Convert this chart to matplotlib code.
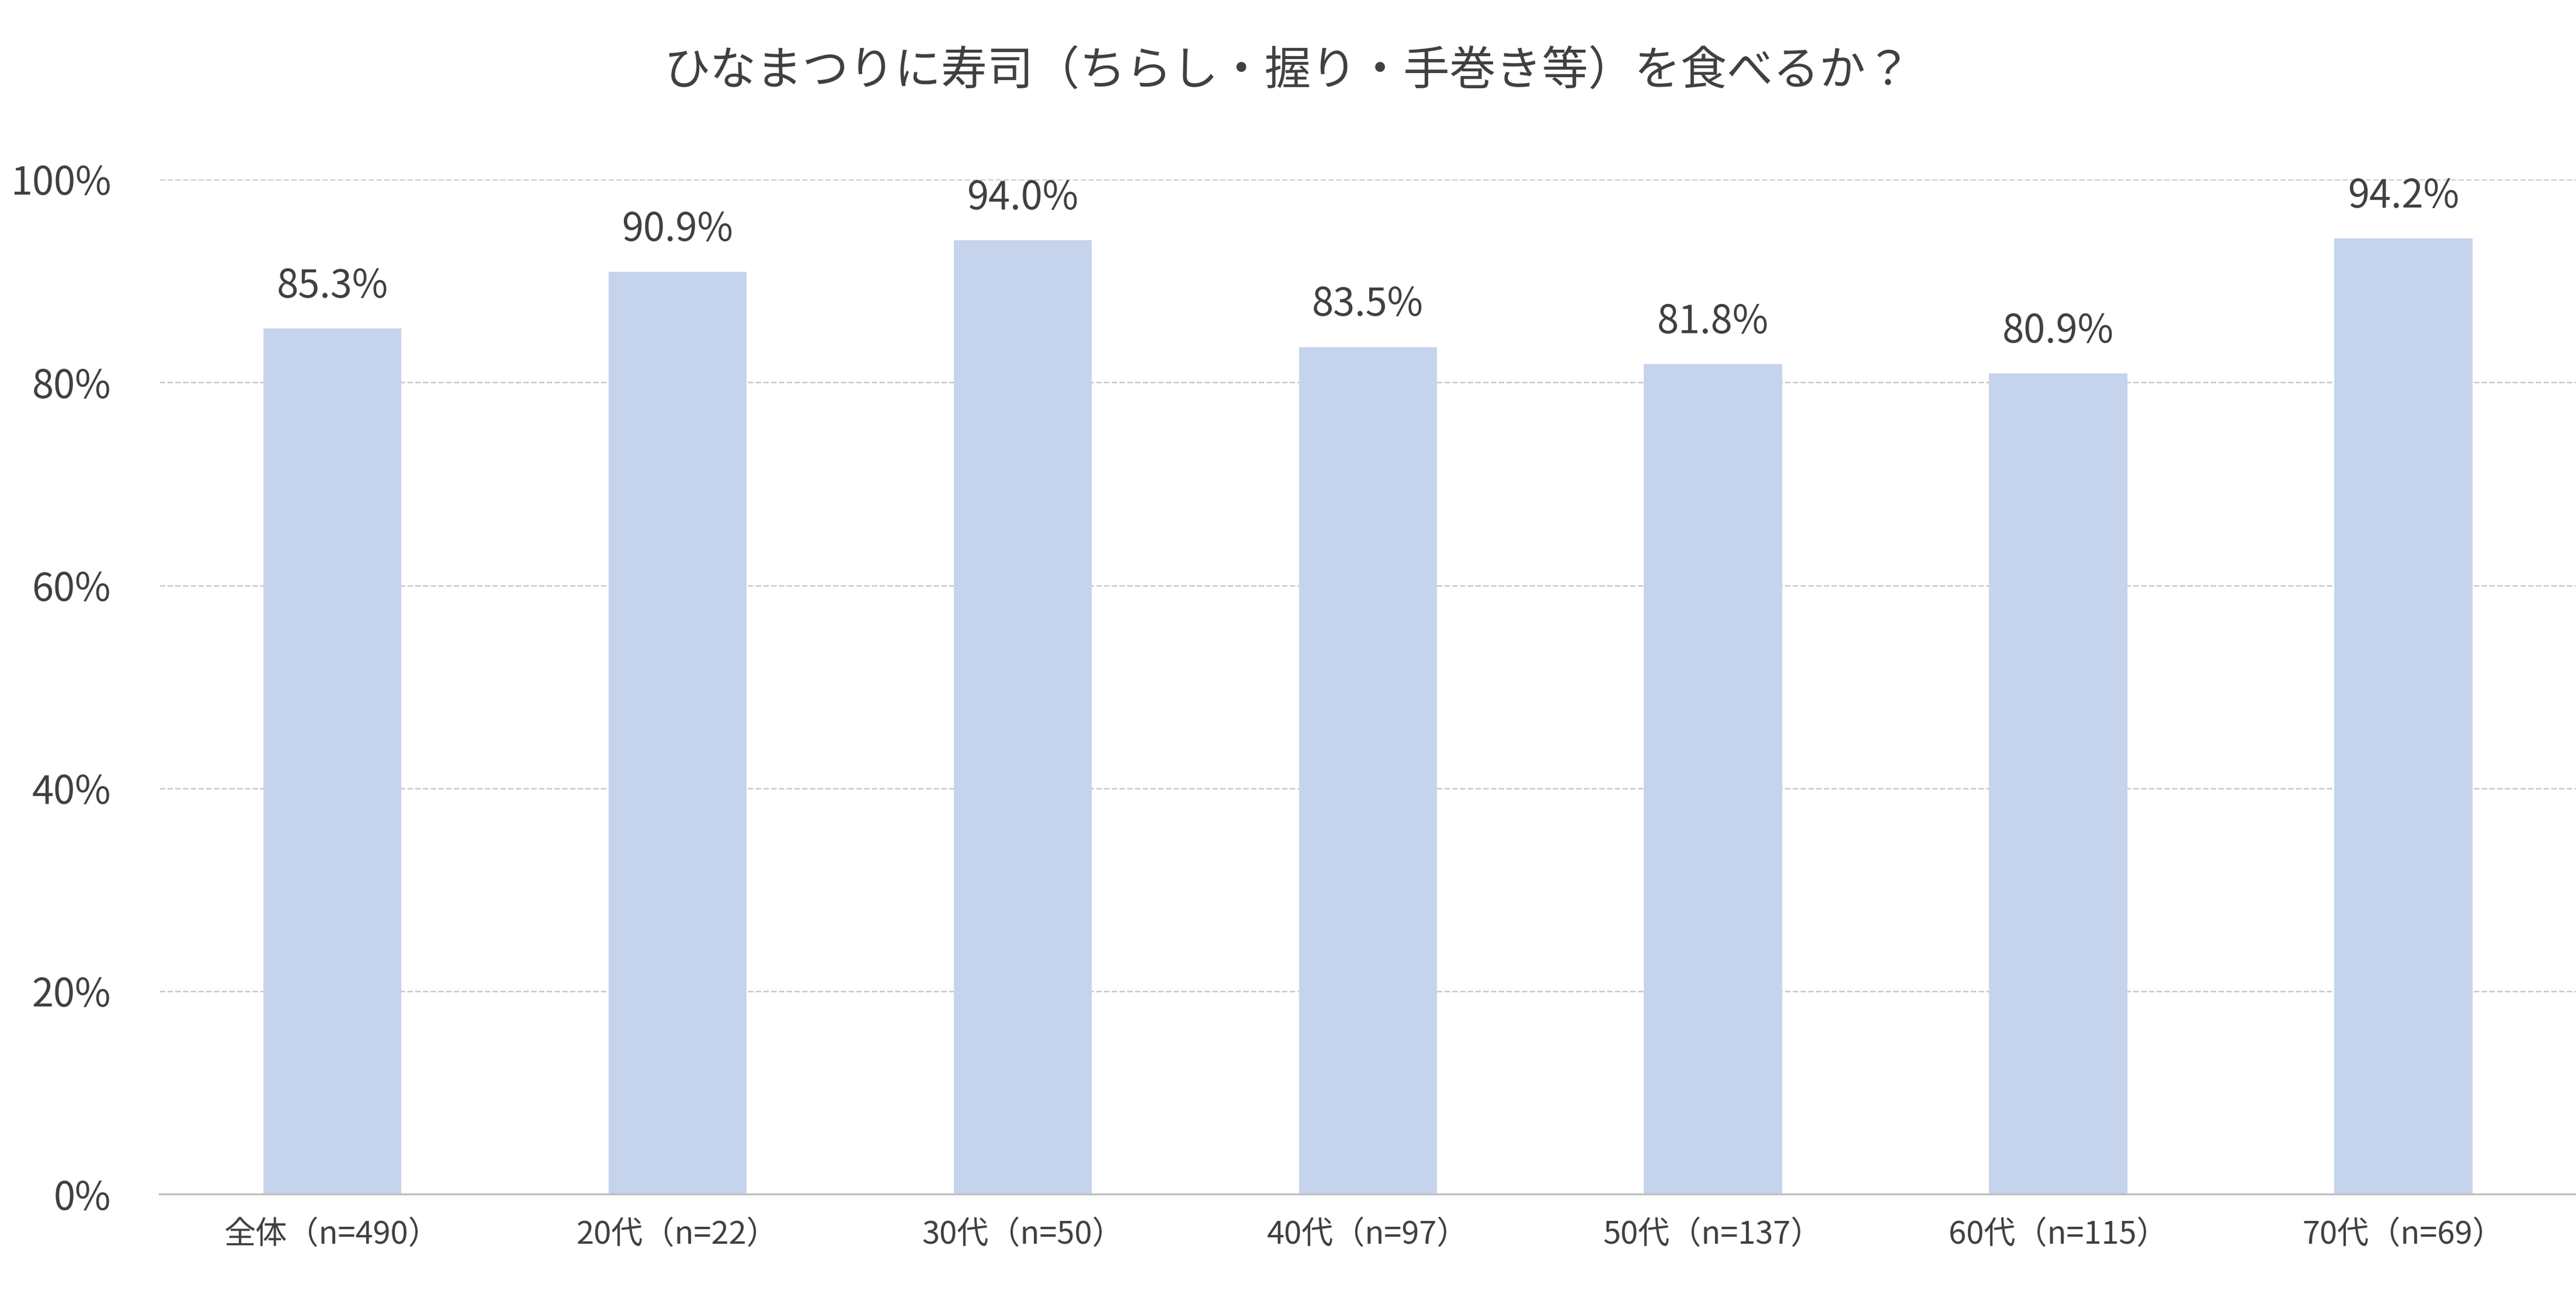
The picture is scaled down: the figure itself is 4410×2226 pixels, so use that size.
import matplotlib.pyplot as plt
from matplotlib import ticker

categories = ['全体（n=490）', '20代（n=22）', '30代（n=50）', '40代（n=97）',
              '50代（n=137）', '60代（n=115）', '70代（n=69）']
values = [85.3, 90.9, 94.0, 83.5, 81.8, 80.9, 94.2]
title = 'ひなまつりに寿司（ちらし・握り・手巻き等）を食べるか？'

plt.rcParams['font.family'] = 'Noto Sans CJK JP'
txt_color = '#404040'

fig = plt.figure(figsize=(14.7, 7.42), dpi=300)
ax = fig.add_axes([0.062, 0.082, 0.938, 0.78])

x = range(len(categories))
ax.bar(x, values, width=0.4, color='#C5D3EC', zorder=2)
for xi, v in zip(x, values):
    ax.text(xi, v + 2.2, f'{v:.1f}%', ha='center', va='bottom',
            fontsize=16, color=txt_color)

ax.set_xlim(-0.5, len(categories) - 0.5)
ax.set_ylim(0, 100)
ax.set_xticks(list(x))
ax.set_xticklabels(categories, fontsize=13, color=txt_color)
ax.yaxis.set_major_locator(ticker.MultipleLocator(20))
ax.yaxis.set_major_formatter(ticker.FuncFormatter(lambda v, p: f'{v:.0f}%'))
ax.tick_params(axis='y', labelsize=16, colors=txt_color, length=0, pad=20)
ax.tick_params(axis='x', length=0, pad=10)

ax.grid(axis='y', linestyle='--', linewidth=0.6, color='#C8C8C8', zorder=0)
for s in ['top', 'right', 'left']:
    ax.spines[s].set_visible(False)
ax.spines['bottom'].set_color('#BFBFBF')
ax.spines['bottom'].set_linewidth(0.8)

fig.text(0.5, 0.945, title, ha='center', va='center', fontsize=19, color=txt_color)

fig.savefig('out.png', dpi=300, facecolor='white')
